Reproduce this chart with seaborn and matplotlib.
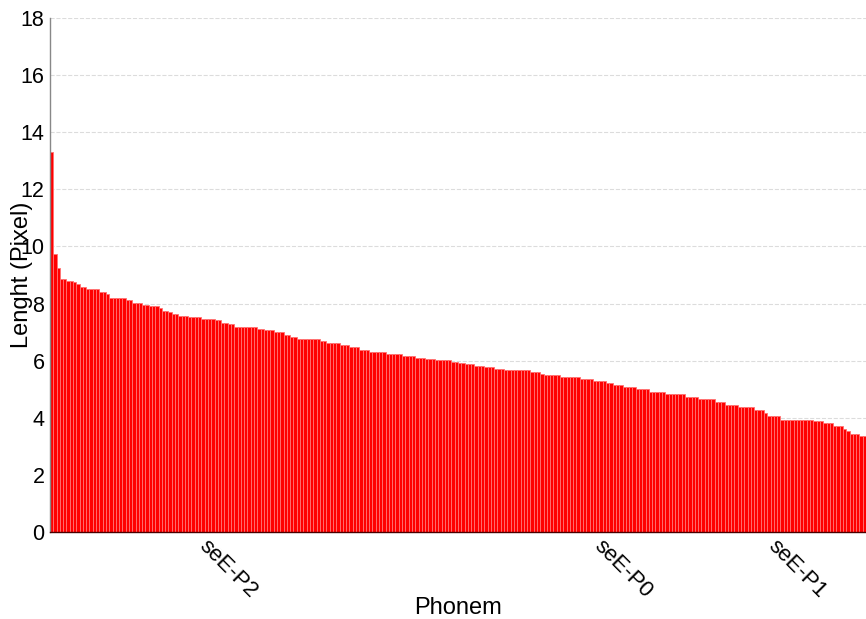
import matplotlib
matplotlib.use('Agg')
import matplotlib.pyplot as plt
import seaborn as sns
import pandas as pd

# Bar heights (sorted)
lengths = [
    13.3, 9.73, 9.24, 8.85, 8.85, 8.8, 8.8, 8.75, 8.68, 8.59,
    8.59, 8.5, 8.5, 8.5, 8.5, 8.41, 8.41, 8.33, 8.2, 8.2,
    8.2, 8.2, 8.2, 8.12, 8.12, 8.03, 8.03, 8.03, 7.95, 7.95,
    7.93, 7.93, 7.93, 7.85, 7.74, 7.74, 7.69, 7.63, 7.63, 7.57,
    7.57, 7.57, 7.52, 7.52, 7.52, 7.52, 7.46, 7.46, 7.46, 7.46,
    7.41, 7.41, 7.33, 7.33, 7.27, 7.27, 7.19, 7.19, 7.19, 7.19,
    7.17, 7.17, 7.17, 7.12, 7.12, 7.06, 7.06, 7.06, 7.01, 7.01,
    7.01, 6.9, 6.9, 6.83, 6.83, 6.77, 6.77, 6.77, 6.77, 6.77,
    6.77, 6.77, 6.69, 6.69, 6.61, 6.61, 6.61, 6.61, 6.55, 6.55,
    6.55, 6.47, 6.47, 6.47, 6.36, 6.36, 6.36, 6.29, 6.29, 6.29,
    6.29, 6.29, 6.22, 6.22, 6.22, 6.22, 6.22, 6.15, 6.15, 6.15,
    6.15, 6.1, 6.1, 6.1, 6.06, 6.06, 6.06, 6.01, 6.01, 6.01,
    6.01, 6.01, 5.96, 5.96, 5.92, 5.92, 5.87, 5.87, 5.87, 5.82,
    5.82, 5.82, 5.77, 5.77, 5.77, 5.71, 5.71, 5.71, 5.66, 5.66,
    5.66, 5.66, 5.66, 5.66, 5.66, 5.66, 5.61, 5.61, 5.61, 5.52,
    5.5, 5.5, 5.5, 5.5, 5.5, 5.44, 5.44, 5.44, 5.44, 5.44,
    5.44, 5.37, 5.37, 5.37, 5.37, 5.29, 5.29, 5.29, 5.29, 5.21,
    5.21, 5.15, 5.15, 5.15, 5.08, 5.08, 5.08, 5.08, 5.01, 5.01,
    5.01, 5.01, 4.9, 4.9, 4.9, 4.9, 4.9, 4.83, 4.83, 4.83,
    4.83, 4.83, 4.83, 4.74, 4.74, 4.74, 4.74, 4.66, 4.66, 4.66,
    4.66, 4.66, 4.54, 4.54, 4.54, 4.45, 4.45, 4.45, 4.45, 4.37,
    4.37, 4.37, 4.37, 4.37, 4.27, 4.27, 4.27, 4.16, 4.06, 4.06,
    4.06, 4.06, 3.92, 3.92, 3.92, 3.92, 3.92, 3.92, 3.92, 3.92,
    3.92, 3.92, 3.87, 3.87, 3.87, 3.8, 3.8, 3.8, 3.7, 3.7,
    3.7, 3.62, 3.53, 3.44, 3.44, 3.44, 3.37, 3.37,
]

# Only a few phonemes are labelled on the x axis
label_pos = [48, 168, 221]
label_names = ['seE-P2', 'seE-P0', 'seE-P1']

df = pd.DataFrame({'idx': range(len(lengths)), 'length': lengths})

sns.set_style('white')
plt.rcParams['font.family'] = ['Liberation Sans', 'DejaVu Sans']
plt.rcParams['text.color'] = 'black'
plt.rcParams['axes.labelcolor'] = 'black'
plt.rcParams['xtick.color'] = 'black'
plt.rcParams['ytick.color'] = 'black'

fig = plt.figure(figsize=(8.66, 6.19), dpi=100)
ax = fig.add_axes([50 / 866, 87 / 619, 816 / 866, 514 / 619])

sns.barplot(data=df, x='idx', y='length', color='#ff0000', saturation=1,
            width=1.0, edgecolor='#ff7373', linewidth=0.6, ax=ax,
            native_scale=True)

ax.set_xlim(-0.5, len(lengths) - 0.5)
ax.set_ylim(0, 18)
ax.set_yticks(range(0, 19, 2))
ax.yaxis.grid(True, linestyle='--', color='#dcdcdc', linewidth=0.8)
ax.xaxis.grid(False)
ax.set_axisbelow(True)

ax.set_xticks(label_pos)
ax.set_xticklabels(label_names, rotation=-45, ha='left', va='top',
                   rotation_mode='anchor', fontsize=16)
ax.tick_params(axis='y', labelsize=15.5, length=0, pad=4)
ax.tick_params(axis='x', length=0, pad=3)

ax.set_xlabel('Phonem', fontsize=17)
ax.set_ylabel('Lenght (Pixel)', fontsize=17)
ax.xaxis.set_label_coords(0.5, -0.127)
ax.yaxis.set_label_coords(-0.021, 0.5)

sns.despine(ax=ax, top=True, right=True)
ax.spines['left'].set_color('#888888')
ax.spines['left'].set_linewidth(1)
ax.spines['bottom'].set_color('#4a0000')
ax.spines['bottom'].set_linewidth(1)

fig.savefig('out.png', dpi=100)
